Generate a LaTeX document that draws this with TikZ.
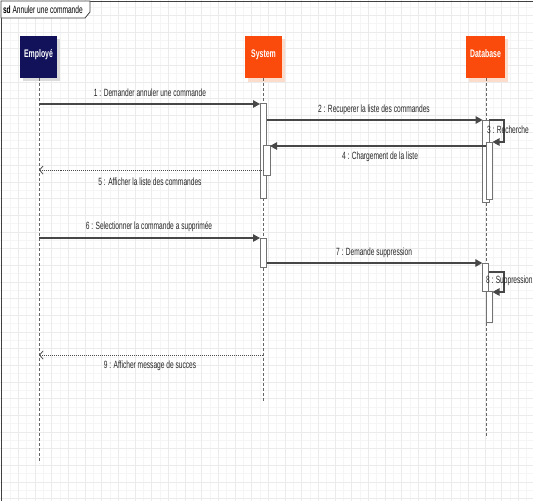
\documentclass[tikz,border=0pt]{standalone}
\usepackage{fontspec}
\setmainfont[FakeStretch=0.63]{Liberation Sans}
\usetikzlibrary{arrows.meta}
\definecolor{navy}{HTML}{12125A}
\definecolor{orng}{HTML}{FA4A0C}
\definecolor{peach}{HTML}{FCDCCB}
\begin{document}
\begin{tikzpicture}[x=1pt,y=-1pt,
 every node/.style={inner sep=0pt,outer sep=0pt},
 gridmin/.style={draw=black!4,line width=0.5pt},
 gridmaj/.style={draw=black!8,line width=0.6pt},
 actor/.style={rectangle,minimum width=37pt,minimum height=42pt,text=white,font=\fontsize{11}{12}\selectfont\bfseries},
 lifeline/.style={draw=black!60,line width=0.9pt,dash pattern=on 3pt off 2pt},
 bar/.style={draw=black!55,fill=white,line width=0.8pt,minimum width=6.5pt},
 msg/.style={draw=black!72,line width=1.1pt,-{Triangle[length=7pt,width=7.5pt]}},
 ret/.style={draw=black!70,line width=0.9pt,dash pattern=on 1pt off 1pt,-{Straight Barb[length=3.5pt,width=8pt,line width=0.8pt]}},
 lbl/.style={font=\fontsize{10.5}{11}\selectfont,text=black!85},
]
\useasboundingbox (0,0) rectangle (533,501);
\fill[white] (0,0) rectangle (533,501);
% grid
\foreach \i in {0,...,64} {\draw[gridmin] ({1.7+8.333*\i},0) -- ++(0,501);}
\foreach \i in {-1,...,60} {\draw[gridmin] (0,{15.3+8.333*\i}) -- ++(533,0);}
\foreach \i in {0,...,32} {\draw[gridmaj] ({1.7+16.667*\i},0) -- ++(0,501);}
\foreach \i in {-1,...,30} {\draw[gridmaj] (0,{15.3+16.667*\i}) -- ++(533,0);}
% frame
\draw[black!75,line width=0.9pt] (533,1) -- (1,1) -- (1,501);
\draw[black!75,line width=0.8pt,fill=white] (1,1) -- (90,1) -- (90,12) -- (85,18) -- (1,18) -- cycle;
\node[anchor=west,font=\fontsize{10.5}{11}\selectfont] (title) at (3,9.5) {\textbf{sd} Annuler une commande};
% actors
\fill[black!14] (22.5,39) rectangle (59.5,81);
\fill[peach] (247.5,39) rectangle (284.5,82);
\fill[peach] (468.5,39) rectangle (507.5,82);
\node[actor,fill=navy] (emp) at (38.5,57) {\raisebox{6.5pt}{Employé}};
\node[actor,fill=orng] (sys) at (263.5,57) {\raisebox{6.5pt}{System}};
\node[actor,fill=orng,minimum width=39pt] (db) at (485.5,57) {\raisebox{6.5pt}{Database}};
% lifelines
\coordinate (le) at (39,463);
\coordinate (ls) at (263,402);
\coordinate (ld) at (486,438);
\draw[lifeline] (emp.south -| le) -- (le);
\draw[lifeline] (sys.south -| ls) -- (ls);
\draw[lifeline] (db.south -| ld) -- (ld);
% activation bars
\node[bar,minimum height=95pt] (s1) at (263.25,150.5) {};
\node[bar,minimum height=30pt] (s2) at (266.75,160) {};
\node[bar,minimum height=82pt] (d1) at (485.85,161) {};
\node[bar,minimum height=57pt] (d2) at (489.25,170.5) {};
\node[bar,minimum height=29pt] (s3) at (263.25,252.5) {};
\node[bar,minimum height=28pt] (d3) at (485.6,277) {};
\node[bar,minimum height=31pt] (d4) at (489.25,306.5) {};
% message rows
\coordinate (m1) at (0,104);
\coordinate (m2) at (0,120);
\coordinate (c3) at (504,131);
\coordinate (m4) at (0,146);
\coordinate (m5) at (0,170);
\coordinate (m6) at (0,238);
\coordinate (m7) at (0,263);
\coordinate (m8) at (0,272);
\coordinate (c8) at (504,282);
\coordinate (m8b) at (0,292);
\coordinate (m9) at (0,355);
% messages
\draw[msg] (m1 -| le) -- (m1 -| s1.west);
\draw[msg] (m2 -| s1.east) -- (m2 -| d1.west);
\draw[msg] (m2 -| d1.east) -| (c3) |- (d2.north east);
\draw[msg] (m4 -| d2.west) -- (m4 -| s2.east);
\draw[ret] (m5 -| s2.west) -- (m5 -| le);
\draw[msg] (m6 -| le) -- (m6 -| s3.west);
\draw[msg] (m7 -| s3.east) -- (m7 -| d3.west);
\draw[msg] (m8 -| d3.east) -| (c8) |- (m8b -| d4.east);
\draw[ret] (m9 -| ls) -- (m9 -| le);
% labels
\node[lbl] (l1) at (150,93) {1 : Demander annuler une commande};
\node[lbl] (l2) at (374,110) {2 : Recuperer la liste des commandes};
\node[lbl,anchor=west] (l3) at (487,130) {3 : Recherche};
\node[lbl] (l4) at (380,157) {4 : Chargement de la liste};
\node[lbl] (l5) at (150,182) {5 : Afficher la liste des commandes};
\node[lbl] (l6) at (149,227) {6 : Selectionner la commande a supprimée};
\node[lbl] (l7) at (374,253) {7 : Demande suppression};
\node[lbl,anchor=west] (l8) at (486,281) {8 : Suppression};
\node[lbl] (l9) at (150,366) {9 : Afficher message de succes};
\end{tikzpicture}
\end{document}
